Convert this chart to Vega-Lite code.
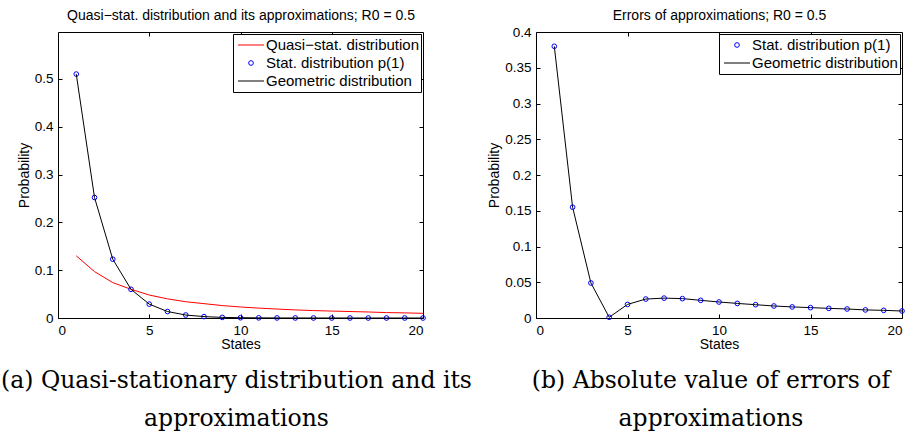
{
  "$schema": "https://vega.github.io/schema/vega-lite/v6.json",
  "background": "white",
  "padding": {"left": 0, "top": 8, "right": 4, "bottom": 2},
  "config": {
    "font": "Liberation Sans",
    "view": {"stroke": "black", "strokeWidth": 1},
    "axis": {
      "domain": false,
      "grid": false,
      "ticks": true,
      "tickColor": "black",
      "tickSize": -4,
      "tickWidth": 1,
      "labelFont": "Liberation Sans",
      "labelFontSize": 13.5,
      "labelColor": "black",
      "titleFont": "Liberation Sans",
      "titleFontSize": 14,
      "titleFontWeight": "normal",
      "titleColor": "black"
    },
    "axisX": {"labelPadding": 9},
    "axisY": {"labelPadding": 9},
    "legend": {
      "labelFont": "Liberation Sans",
      "labelFontSize": 15,
      "labelColor": "black",
      "labelLimit": 300
    },
    "title": {
      "font": "DejaVu Serif",
      "fontSize": 23.5,
      "fontWeight": "normal",
      "lineHeight": 38,
      "color": "black",
      "orient": "bottom",
      "anchor": "middle",
      "offset": 17
    }
  },
  "datasets": {
    "dist": [
      {"state": 1, "series": "Quasi−stat. distribution", "p": 0.130},
      {"state": 2, "series": "Quasi−stat. distribution", "p": 0.097},
      {"state": 3, "series": "Quasi−stat. distribution", "p": 0.074},
      {"state": 4, "series": "Quasi−stat. distribution", "p": 0.060},
      {"state": 5, "series": "Quasi−stat. distribution", "p": 0.048},
      {"state": 6, "series": "Quasi−stat. distribution", "p": 0.040},
      {"state": 7, "series": "Quasi−stat. distribution", "p": 0.034},
      {"state": 8, "series": "Quasi−stat. distribution", "p": 0.030},
      {"state": 9, "series": "Quasi−stat. distribution", "p": 0.026},
      {"state": 10, "series": "Quasi−stat. distribution", "p": 0.023},
      {"state": 11, "series": "Quasi−stat. distribution", "p": 0.0207},
      {"state": 12, "series": "Quasi−stat. distribution", "p": 0.0187},
      {"state": 13, "series": "Quasi−stat. distribution", "p": 0.0169},
      {"state": 14, "series": "Quasi−stat. distribution", "p": 0.0155},
      {"state": 15, "series": "Quasi−stat. distribution", "p": 0.0145},
      {"state": 16, "series": "Quasi−stat. distribution", "p": 0.0135},
      {"state": 17, "series": "Quasi−stat. distribution", "p": 0.0126},
      {"state": 18, "series": "Quasi−stat. distribution", "p": 0.0113},
      {"state": 19, "series": "Quasi−stat. distribution", "p": 0.0107},
      {"state": 20, "series": "Quasi−stat. distribution", "p": 0.0098},
      {"state": 1, "series": "Stat. distribution p(1)", "p": 0.510},
      {"state": 2, "series": "Stat. distribution p(1)", "p": 0.252},
      {"state": 3, "series": "Stat. distribution p(1)", "p": 0.123},
      {"state": 4, "series": "Stat. distribution p(1)", "p": 0.060},
      {"state": 5, "series": "Stat. distribution p(1)", "p": 0.029},
      {"state": 6, "series": "Stat. distribution p(1)", "p": 0.0135},
      {"state": 7, "series": "Stat. distribution p(1)", "p": 0.0062},
      {"state": 8, "series": "Stat. distribution p(1)", "p": 0.0029},
      {"state": 9, "series": "Stat. distribution p(1)", "p": 0.0013},
      {"state": 10, "series": "Stat. distribution p(1)", "p": 0.0006},
      {"state": 11, "series": "Stat. distribution p(1)", "p": 0.0003},
      {"state": 12, "series": "Stat. distribution p(1)", "p": 0.00013},
      {"state": 13, "series": "Stat. distribution p(1)", "p": 0.00006},
      {"state": 14, "series": "Stat. distribution p(1)", "p": 0.00003},
      {"state": 15, "series": "Stat. distribution p(1)", "p": 0.00001},
      {"state": 16, "series": "Stat. distribution p(1)", "p": 0.00001},
      {"state": 17, "series": "Stat. distribution p(1)", "p": 0},
      {"state": 18, "series": "Stat. distribution p(1)", "p": 0},
      {"state": 19, "series": "Stat. distribution p(1)", "p": 0},
      {"state": 20, "series": "Stat. distribution p(1)", "p": 0},
      {"state": 1, "series": "Geometric distribution", "p": 0.510},
      {"state": 2, "series": "Geometric distribution", "p": 0.252},
      {"state": 3, "series": "Geometric distribution", "p": 0.123},
      {"state": 4, "series": "Geometric distribution", "p": 0.060},
      {"state": 5, "series": "Geometric distribution", "p": 0.029},
      {"state": 6, "series": "Geometric distribution", "p": 0.0135},
      {"state": 7, "series": "Geometric distribution", "p": 0.0062},
      {"state": 8, "series": "Geometric distribution", "p": 0.0029},
      {"state": 9, "series": "Geometric distribution", "p": 0.0013},
      {"state": 10, "series": "Geometric distribution", "p": 0.0006},
      {"state": 11, "series": "Geometric distribution", "p": 0.0003},
      {"state": 12, "series": "Geometric distribution", "p": 0.00013},
      {"state": 13, "series": "Geometric distribution", "p": 0.00006},
      {"state": 14, "series": "Geometric distribution", "p": 0.00003},
      {"state": 15, "series": "Geometric distribution", "p": 0.00001},
      {"state": 16, "series": "Geometric distribution", "p": 0.00001},
      {"state": 17, "series": "Geometric distribution", "p": 0},
      {"state": 18, "series": "Geometric distribution", "p": 0},
      {"state": 19, "series": "Geometric distribution", "p": 0},
      {"state": 20, "series": "Geometric distribution", "p": 0}
    ],
    "err": [
      {"state": 1, "series": "Stat. distribution p(1)", "e": 0.380},
      {"state": 2, "series": "Stat. distribution p(1)", "e": 0.155},
      {"state": 3, "series": "Stat. distribution p(1)", "e": 0.049},
      {"state": 4, "series": "Stat. distribution p(1)", "e": 0.001},
      {"state": 5, "series": "Stat. distribution p(1)", "e": 0.019},
      {"state": 6, "series": "Stat. distribution p(1)", "e": 0.0265},
      {"state": 7, "series": "Stat. distribution p(1)", "e": 0.0278},
      {"state": 8, "series": "Stat. distribution p(1)", "e": 0.0271},
      {"state": 9, "series": "Stat. distribution p(1)", "e": 0.0247},
      {"state": 10, "series": "Stat. distribution p(1)", "e": 0.0224},
      {"state": 11, "series": "Stat. distribution p(1)", "e": 0.0204},
      {"state": 12, "series": "Stat. distribution p(1)", "e": 0.0186},
      {"state": 13, "series": "Stat. distribution p(1)", "e": 0.0168},
      {"state": 14, "series": "Stat. distribution p(1)", "e": 0.0155},
      {"state": 15, "series": "Stat. distribution p(1)", "e": 0.0145},
      {"state": 16, "series": "Stat. distribution p(1)", "e": 0.0135},
      {"state": 17, "series": "Stat. distribution p(1)", "e": 0.0126},
      {"state": 18, "series": "Stat. distribution p(1)", "e": 0.0113},
      {"state": 19, "series": "Stat. distribution p(1)", "e": 0.0107},
      {"state": 20, "series": "Stat. distribution p(1)", "e": 0.0098},
      {"state": 1, "series": "Geometric distribution", "e": 0.380},
      {"state": 2, "series": "Geometric distribution", "e": 0.155},
      {"state": 3, "series": "Geometric distribution", "e": 0.049},
      {"state": 4, "series": "Geometric distribution", "e": 0.001},
      {"state": 5, "series": "Geometric distribution", "e": 0.019},
      {"state": 6, "series": "Geometric distribution", "e": 0.0265},
      {"state": 7, "series": "Geometric distribution", "e": 0.0278},
      {"state": 8, "series": "Geometric distribution", "e": 0.0271},
      {"state": 9, "series": "Geometric distribution", "e": 0.0247},
      {"state": 10, "series": "Geometric distribution", "e": 0.0224},
      {"state": 11, "series": "Geometric distribution", "e": 0.0204},
      {"state": 12, "series": "Geometric distribution", "e": 0.0186},
      {"state": 13, "series": "Geometric distribution", "e": 0.0168},
      {"state": 14, "series": "Geometric distribution", "e": 0.0155},
      {"state": 15, "series": "Geometric distribution", "e": 0.0145},
      {"state": 16, "series": "Geometric distribution", "e": 0.0135},
      {"state": 17, "series": "Geometric distribution", "e": 0.0126},
      {"state": 18, "series": "Geometric distribution", "e": 0.0113},
      {"state": 19, "series": "Geometric distribution", "e": 0.0107},
      {"state": 20, "series": "Geometric distribution", "e": 0.0098}
    ]
  },
  "bounds": "flush",
  "spacing": 113,
  "resolve": {"scale": {"color": "independent"}, "legend": {"color": "independent"}},
  "hconcat": [
    {
      "width": 365,
      "height": 286,
      "title": {"text": ["(a) Quasi-stationary distribution and its", "approximations"], "dx": -4},
      "data": {"name": "dist"},
      "resolve": {"axis": {"x": "independent", "y": "independent"}},
      "layer": [
        {
          "transform": [{"filter": "datum.series === 'Quasi−stat. distribution'"}],
          "mark": {"type": "line", "strokeWidth": 1},
          "encoding": {
            "x": {"field": "state", "type": "quantitative", "scale": {"domain": [0, 20], "nice": false},
                  "axis": {"orient": "bottom", "values": [0, 5, 10, 15, 20], "title": "States", "titlePadding": 1}},
            "y": {"field": "p", "type": "quantitative", "scale": {"domain": [0, 0.598], "nice": false, "zero": true},
                  "axis": {"orient": "left", "values": [0, 0.1, 0.2, 0.3, 0.4, 0.5], "format": "~g", "title": "Probability", "titlePadding": 3}},
            "color": {
              "field": "series", "type": "nominal",
              "scale": {"domain": ["Quasi−stat. distribution", "Stat. distribution p(1)", "Geometric distribution"],
                        "range": ["#ff0000", "#0000ff", "#000000"]},
              "legend": {
                "title": null, "orient": "top-right", "offset": 2,
                "strokeColor": "black", "fillColor": "white",
                "padding": 2, "rowPadding": 0, "clipHeight": 18, "labelOffset": 4, "symbolSize": 676,
                "encode": {
                  "symbols": {"update": {
                    "x": {"value": 16},
                    "shape": {"signal": "datum.value === 'Stat. distribution p(1)' ? 'circle' : 'stroke'"},
                    "size": {"signal": "datum.value === 'Stat. distribution p(1)' ? 22 : 676"},
                    "stroke": {"signal": "datum.value === 'Stat. distribution p(1)' ? '#0000ff' : (datum.value === 'Geometric distribution' ? '#000000' : '#ff0000')"},
                    "fill": {"value": "transparent"},
                    "strokeWidth": {"value": 1}
                  }}
                }
              }
            }
          }
        },
        {
          "transform": [{"filter": "datum.series === 'Stat. distribution p(1)'"}],
          "mark": {"type": "point", "shape": "circle", "filled": false, "size": 22, "strokeWidth": 1, "opacity": 1},
          "encoding": {
            "x": {"field": "state", "type": "quantitative", "axis": null},
            "y": {"field": "p", "type": "quantitative", "axis": null},
            "color": {"field": "series", "type": "nominal"}
          }
        },
        {
          "transform": [{"filter": "datum.series === 'Geometric distribution'"}],
          "mark": {"type": "line", "strokeWidth": 1},
          "encoding": {
            "x": {"field": "state", "type": "quantitative",
                  "axis": {"orient": "top", "values": [5, 10, 15], "labels": false,
                           "title": "Quasi−stat. distribution and its approximations; R0 = 0.5", "titlePadding": 9}},
            "y": {"field": "p", "type": "quantitative",
                  "axis": {"orient": "right", "values": [0.1, 0.2, 0.3, 0.4, 0.5], "labels": false, "title": null}},
            "color": {"field": "series", "type": "nominal"}
          }
        }
      ]
    },
    {
      "width": 366,
      "height": 286,
      "title": {"text": ["(b) Absolute value of errors of", "approximations"], "dx": -8},
      "data": {"name": "err"},
      "resolve": {"axis": {"x": "independent", "y": "independent"}},
      "layer": [
        {
          "transform": [{"filter": "datum.series === 'Geometric distribution'"}],
          "mark": {"type": "line", "strokeWidth": 1},
          "encoding": {
            "x": {"field": "state", "type": "quantitative", "scale": {"domain": [0, 20], "nice": false},
                  "axis": {"orient": "bottom", "values": [0, 5, 10, 15, 20], "title": "States", "titlePadding": 1}},
            "y": {"field": "e", "type": "quantitative", "scale": {"domain": [0, 0.4], "nice": false},
                  "axis": {"orient": "left", "values": [0, 0.05, 0.1, 0.15, 0.2, 0.25, 0.3, 0.35, 0.4], "format": "~g", "title": "Probability", "titlePadding": 3}},
            "color": {
              "field": "series", "type": "nominal",
              "scale": {"domain": ["Stat. distribution p(1)", "Geometric distribution"],
                        "range": ["#0000ff", "#000000"]},
              "legend": {
                "title": null, "orient": "top-right", "offset": 2,
                "strokeColor": "black", "fillColor": "white",
                "padding": 2, "rowPadding": 0, "clipHeight": 18, "labelOffset": 4, "symbolSize": 676,
                "encode": {
                  "symbols": {"update": {
                    "x": {"value": 16},
                    "shape": {"signal": "datum.value === 'Stat. distribution p(1)' ? 'circle' : 'stroke'"},
                    "size": {"signal": "datum.value === 'Stat. distribution p(1)' ? 22 : 676"},
                    "stroke": {"signal": "datum.value === 'Stat. distribution p(1)' ? '#0000ff' : '#000000'"},
                    "fill": {"value": "transparent"},
                    "strokeWidth": {"value": 1}
                  }}
                }
              }
            }
          }
        },
        {
          "transform": [{"filter": "datum.series === 'Stat. distribution p(1)'"}],
          "mark": {"type": "point", "shape": "circle", "filled": false, "size": 22, "strokeWidth": 1, "opacity": 1},
          "encoding": {
            "x": {"field": "state", "type": "quantitative",
                  "axis": {"orient": "top", "values": [5, 10, 15], "labels": false,
                           "title": "Errors of approximations; R0 = 0.5", "titlePadding": 9}},
            "y": {"field": "e", "type": "quantitative",
                  "axis": {"orient": "right", "values": [0.05, 0.1, 0.15, 0.2, 0.25, 0.3, 0.35], "labels": false, "title": null}},
            "color": {"field": "series", "type": "nominal"}
          }
        }
      ]
    }
  ]
}
